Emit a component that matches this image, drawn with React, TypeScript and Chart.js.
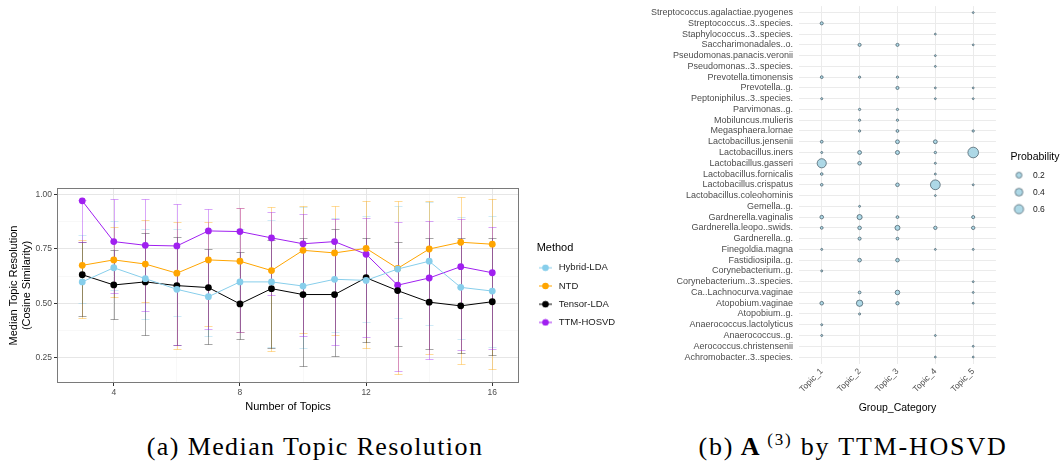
import React, { useEffect, useRef } from 'react';
import { Chart, registerables } from 'chart.js';
Chart.register(...registerables);

const SANS = '"Liberation Sans", Arial, sans-serif';

// ---------- (a) Median Topic Resolution ----------
const topicCounts = [3, 4, 5, 6, 7, 8, 9, 10, 11, 12, 13, 14, 15, 16];
const methodNames = ['Hybrid-LDA', 'NTD', 'Tensor-LDA', 'TTM-HOSVD'];
const methodColors = ['#87CEEB', '#FFA500', '#000000', '#A020F0'];

const hybridLDA = [0.598, 0.663, 0.613, 0.564, 0.530, 0.598, 0.598, 0.579, 0.610, 0.605, 0.657, 0.693, 0.573, 0.556];
const ntd = [0.674, 0.699, 0.680, 0.638, 0.699, 0.693, 0.650, 0.743, 0.731, 0.752, 0.660, 0.749, 0.780, 0.771];
const tensorLDA = [0.631, 0.584, 0.598, 0.581, 0.572, 0.497, 0.567, 0.540, 0.540, 0.617, 0.558, 0.505, 0.488, 0.507];
const ttmHOSVD = [0.970, 0.783, 0.766, 0.763, 0.832, 0.829, 0.800, 0.773, 0.783, 0.725, 0.583, 0.616, 0.668, 0.640];

const hybridLow = [0.500, 0.560, 0.428, 0.440, 0.350, 0.370, 0.300, 0.296, 0.367, 0.416, 0.431, 0.400, 0.335, 0.301];
const hybridHigh = [0.813, 0.877, 0.840, 0.840, 0.840, 0.840, 0.880, 0.940, 0.890, 0.902, 0.948, 0.966, 0.894, 0.900];
const ntdLow = [0.431, 0.527, 0.507, 0.290, 0.397, 0.370, 0.283, 0.362, 0.356, 0.296, 0.174, 0.266, 0.220, 0.199];
const ntdHigh = [0.790, 0.850, 0.882, 0.874, 0.873, 0.936, 0.940, 0.948, 0.948, 0.969, 0.969, 0.969, 0.986, 0.977];
const tensorLow = [0.443, 0.428, 0.353, 0.310, 0.312, 0.336, 0.296, 0.214, 0.257, 0.324, 0.306, 0.289, 0.270, 0.263];
const tensorHigh = [0.780, 0.745, 0.824, 0.805, 0.749, 0.734, 0.790, 0.798, 0.840, 0.798, 0.783, 0.801, 0.798, 0.800];
const ttmLow = [0.780, 0.546, 0.465, 0.309, 0.382, 0.370, 0.540, 0.351, 0.309, 0.347, 0.190, 0.245, 0.286, 0.289];
const ttmHigh = [0.975, 0.980, 0.980, 0.954, 0.932, 0.936, 0.920, 0.908, 0.885, 0.890, 0.872, 0.877, 0.885, 0.851];

const xTickValues = [4, 6, 8, 10, 12, 14, 16];
const xMajorTicks = [4, 8, 12, 16];
const yTickValues = [0.25, 0.375, 0.5, 0.625, 0.75, 0.875, 1.0];
const yMajorTicks = [0.25, 0.5, 0.75, 1.0];

// ---------- (b) A(3) by TTM-HOSVD ----------
const topicLabels = ['Topic_1', 'Topic_2', 'Topic_3', 'Topic_4', 'Topic_5'];
const speciesLabels = [
  'Streptococcus.agalactiae.pyogenes',
  'Streptococcus..3..species.',
  'Staphylococcus..3..species.',
  'Saccharimonadales..o.',
  'Pseudomonas.panacis.veronii',
  'Pseudomonas..3..species.',
  'Prevotella.timonensis',
  'Prevotella..g.',
  'Peptoniphilus..3..species.',
  'Parvimonas..g.',
  'Mobiluncus.mulieris',
  'Megasphaera.lornae',
  'Lactobacillus.jensenii',
  'Lactobacillus.iners',
  'Lactobacillus.gasseri',
  'Lactobacillus.fornicalis',
  'Lactobacillus.crispatus',
  'Lactobacillus.coleohominis',
  'Gemella..g.',
  'Gardnerella.vaginalis',
  'Gardnerella.leopo..swids.',
  'Gardnerella..g.',
  'Finegoldia.magna',
  'Fastidiosipila..g.',
  'Corynebacterium..g.',
  'Corynebacterium..3..species.',
  'Ca..Lachnocurva.vaginae',
  'Atopobium.vaginae',
  'Atopobium..g.',
  'Anaerococcus.lactolyticus',
  'Anaerococcus..g.',
  'Aerococcus.christensenii',
  'Achromobacter..3..species.',
];
// probability per species (same order as speciesLabels), 0 = not shown
const topic1Prob = [0, 0.03, 0, 0, 0, 0, 0.02, 0, 0.005, 0, 0, 0, 0.02, 0.004, 0.6, 0.015, 0.015, 0, 0, 0.05, 0.02, 0, 0.004, 0, 0.004, 0, 0, 0.05, 0, 0.004, 0.004, 0, 0];
const topic2Prob = [0, 0, 0, 0.03, 0, 0, 0.008, 0, 0, 0.008, 0.008, 0.008, 0, 0.06, 0.05, 0, 0, 0, 0.003, 0.14, 0.05, 0.03, 0, 0.05, 0, 0, 0.02, 0.25, 0.005, 0, 0, 0, 0];
const topic3Prob = [0, 0, 0, 0.03, 0, 0, 0.008, 0.03, 0, 0.008, 0.008, 0.02, 0.06, 0.07, 0, 0, 0.05, 0, 0, 0.02, 0.13, 0.02, 0, 0.05, 0, 0, 0.1, 0.04, 0, 0, 0, 0, 0];
const topic4Prob = [0, 0, 0.002, 0, 0.002, 0.002, 0, 0.002, 0.002, 0, 0, 0, 0.06, 0.01, 0.004, 0.003, 0.7, 0.002, 0, 0, 0.04, 0, 0.002, 0, 0, 0, 0, 0, 0, 0, 0.002, 0, 0.002];
const topic5Prob = [0.002, 0, 0, 0.002, 0, 0, 0, 0.002, 0.002, 0, 0, 0.008, 0, 0.85, 0, 0, 0.003, 0, 0, 0.03, 0.04, 0, 0.003, 0, 0, 0.002, 0.002, 0.002, 0, 0, 0, 0.002, 0.002];
const probLegendValues = [0.2, 0.4, 0.6];

const topicProbs = [topic1Prob, topic2Prob, topic3Prob, topic4Prob, topic5Prob];
const radiusOf = (p: number) => 0.7 + 5 * Math.sqrt(p);
const BUBBLE_FILL = '#ADD8E6';
const BUBBLE_EDGE = '#4F6470';

function hexToRgba(hex: string, a: number) {
  const n = parseInt(hex.slice(1), 16);
  return `rgba(${(n >> 16) & 255},${(n >> 8) & 255},${n & 255},${a})`;
}

function makeLineIcon(color: string) {
  const c = document.createElement('canvas');
  c.width = 16; c.height = 8;
  const g = c.getContext('2d')!;
  g.strokeStyle = color; g.lineWidth = 1;
  g.beginPath(); g.moveTo(1, 4); g.lineTo(14, 4); g.stroke();
  g.fillStyle = color;
  g.beginPath(); g.arc(7.5, 4, 3.3, 0, Math.PI * 2); g.fill();
  return c;
}

function makeCircleIcon(r: number) {
  const s = Math.ceil(r * 2 + 3);
  const c = document.createElement('canvas');
  c.width = s; c.height = s;
  const g = c.getContext('2d')!;
  g.fillStyle = BUBBLE_FILL; g.strokeStyle = BUBBLE_EDGE; g.lineWidth = 0.8;
  g.beginPath(); g.arc(s / 2, s / 2, r, 0, Math.PI * 2); g.fill(); g.stroke();
  return c;
}

// moves the built-in legend box after layout (left, top, title-centering width in canvas px)
function legendPlacer(left: number, top: number, width: number) {
  return {
    id: 'legendPlacer',
    afterLayout(chart: any) {
      const lg = chart.legend;
      if (!lg) return;
      lg.left = left; lg.top = top; lg.width = width;
      lg.right = left + 200; lg.bottom = top + 300; lg.height = 300;
    },
  };
}

const errorSeries = [
  { low: hybridLow, high: hybridHigh },
  { low: ntdLow, high: ntdHigh },
  { low: tensorLow, high: tensorHigh },
  { low: ttmLow, high: ttmHigh },
];

const errorBarPlugin = {
  id: 'errorBars',
  beforeDatasetsDraw(chart: any) {
    const { ctx, chartArea, scales } = chart;
    const xs = scales.x, ys = scales.y;
    ctx.save();
    ctx.beginPath();
    ctx.rect(chartArea.left, chartArea.top, chartArea.right - chartArea.left, chartArea.bottom - chartArea.top);
    ctx.clip();
    const cap = 4;
    errorSeries.forEach((s, si) => {
      ctx.strokeStyle = hexToRgba(methodColors[si], si === 2 ? 0.35 : 0.4);
      ctx.lineWidth = 1;
      topicCounts.forEach((t, i) => {
        const px = Math.round(xs.getPixelForValue(t)) + 0.5;
        const y1 = Math.round(ys.getPixelForValue(s.low[i])) + 0.5;
        const y2 = Math.round(ys.getPixelForValue(s.high[i])) + 0.5;
        ctx.beginPath();
        ctx.moveTo(px, y1); ctx.lineTo(px, y2);
        ctx.moveTo(px - cap, y1); ctx.lineTo(px + cap, y1);
        ctx.moveTo(px - cap, y2); ctx.lineTo(px + cap, y2);
        ctx.stroke();
      });
    });
    ctx.restore();
  },
  afterDatasetsDraw(chart: any) {
    const { ctx, chartArea } = chart;
    ctx.save();
    ctx.strokeStyle = '#7a7a7a';
    ctx.lineWidth = 1;
    ctx.strokeRect(Math.round(chartArea.left) + 0.5, Math.round(chartArea.top) + 0.5,
      Math.round(chartArea.right - chartArea.left) - 1, Math.round(chartArea.bottom - chartArea.top) - 1);
    ctx.restore();
  },
};

function LeftChart() {
  const ref = useRef<HTMLCanvasElement>(null);
  useEffect(() => {
    const series = [hybridLDA, ntd, tensorLDA, ttmHOSVD];
    const icons = methodColors.map(makeLineIcon);
    const chart = new Chart(ref.current!, {
      type: 'line',
      data: {
        datasets: series.map((vals, si) => ({
          label: methodNames[si],
          data: topicCounts.map((t, i) => ({ x: t, y: vals[i] })),
          borderColor: methodColors[si],
          backgroundColor: methodColors[si],
          pointBackgroundColor: methodColors[si],
          pointBorderWidth: 0,
          pointRadius: 3.4,
          borderWidth: 1,
          tension: 0,
        })),
      },
      options: {
        animation: false,
        responsive: false,
        layout: { padding: { top: 18, right: 15, left: 0, bottom: 0 } },
        plugins: {
          tooltip: { enabled: false },
          legend: {
            position: 'right',
            align: 'start',
            title: { display: true, text: 'Method', color: '#000', font: { family: SANS, size: 11, lineHeight: 1.05 }, padding: 0, position: 'center' },
            labels: {
              usePointStyle: true,
              pointStyleWidth: 16,
              boxHeight: 9.5,
              padding: 8.7,
              color: '#1a1a1a',
              font: { family: SANS, size: 9.5 },
              generateLabels: (c: any) => c.data.datasets.map((ds: any, i: number) => ({
                text: ds.label, pointStyle: icons[i], fillStyle: methodColors[i], strokeStyle: methodColors[i],
                lineWidth: 0, hidden: false, datasetIndex: i, fontColor: '#1a1a1a',
              })),
            },
          },
        },
        scales: {
          x: {
            type: 'linear',
            min: 2.2,
            max: 16.85,
            afterBuildTicks: (axis: any) => { axis.ticks = xTickValues.map((v) => ({ value: v })); },
            afterFit: (axis: any) => { axis.height = 37; axis.paddingLeft = 0; axis.paddingRight = 0; },
            ticks: {
              color: '#4D4D4D', font: { family: SANS, size: 8.5 }, padding: 2,
              autoSkip: false, maxRotation: 0,
              callback: (v: any) => (xMajorTicks.includes(v) ? String(v) : ''),
            },
            grid: {
              color: (c: any) => (xMajorTicks.includes(c.tick?.value) ? '#E6E6E6' : '#F3F3F3'),
              lineWidth: (c: any) => (xMajorTicks.includes(c.tick?.value) ? 1 : 0.6),
              tickColor: (c: any) => (xMajorTicks.includes(c.tick?.value) ? '#333' : 'rgba(0,0,0,0)'),
              tickLength: 3,
            },
            border: { display: false },
            title: { display: true, text: 'Number of Topics', color: '#000', font: { family: SANS, size: 11 }, padding: { top: 0, bottom: 6 } },
          },
          y: {
            type: 'linear',
            min: 0.134,
            max: 1.029,
            afterBuildTicks: (axis: any) => { axis.ticks = yTickValues.map((v) => ({ value: v })); },
            afterFit: (axis: any) => { axis.width = 57; axis.paddingTop = 0; axis.paddingBottom = 0; },
            ticks: {
              color: '#4D4D4D', font: { family: SANS, size: 8.5 }, padding: 2, autoSkip: false,
              callback: (v: any) => (yMajorTicks.includes(v) ? Number(v).toFixed(2) : ''),
            },
            grid: {
              color: (c: any) => (yMajorTicks.includes(c.tick?.value) ? '#E6E6E6' : '#F3F3F3'),
              lineWidth: (c: any) => (yMajorTicks.includes(c.tick?.value) ? 1 : 0.6),
              tickColor: (c: any) => (yMajorTicks.includes(c.tick?.value) ? '#333' : 'rgba(0,0,0,0)'),
              tickLength: 3,
            },
            border: { display: false },
            title: {
              display: true, text: ['Median Topic Resolution', '(Cosine Similarity)'], color: '#000',
              font: { family: SANS, size: 11, lineHeight: 1.27 }, padding: { top: 6.5, bottom: 2 },
            },
          },
        },
      },
      plugins: [errorBarPlugin, legendPlacer(529.3, 72.8, 51.4)],
    } as any);
    return () => chart.destroy();
  }, []);
  return <canvas ref={ref} width={630} height={250} style={{ position: 'absolute', left: 0, top: 170, width: 630, height: 250 }} />;
}

function RightChart() {
  const ref = useRef<HTMLCanvasElement>(null);
  useEffect(() => {
    const points: any[] = [];
    topicProbs.forEach((arr, ti) => {
      arr.forEach((p, si) => {
        if (p > 0) points.push({ x: ti, y: si, r: radiusOf(p) });
      });
    });
    const icons = probLegendValues.map((p) => makeCircleIcon(radiusOf(p)));
    const chart = new Chart(ref.current!, {
      type: 'bubble',
      data: {
        datasets: [{
          label: 'Probability',
          data: points,
          backgroundColor: BUBBLE_FILL,
          borderColor: BUBBLE_EDGE,
          borderWidth: 0.8,
        }],
      },
      options: {
        animation: false,
        responsive: false,
        layout: { padding: { top: 2.5, right: 13, left: 0, bottom: 0 } },
        plugins: {
          tooltip: { enabled: false },
          legend: {
            position: 'right',
            align: 'start',
            title: { display: true, text: 'Probability', color: '#000', font: { family: SANS, size: 10.5, lineHeight: 1.05 }, padding: 0, position: 'center' },
            labels: {
              usePointStyle: true,
              pointStyleWidth: 19.5,
              boxHeight: 8.5,
              padding: 8.5,
              color: '#1a1a1a',
              font: { family: SANS, size: 8.5 },
              generateLabels: () => probLegendValues.map((p, i) => ({
                text: String(p), pointStyle: icons[i], fillStyle: BUBBLE_FILL, strokeStyle: BUBBLE_EDGE,
                lineWidth: 0, hidden: false, datasetIndex: 0, fontColor: '#1a1a1a',
              })),
            },
          },
        },
        scales: {
          x: {
            type: 'linear',
            min: -0.6,
            max: topicLabels.length - 1 + 0.6,
            afterBuildTicks: (axis: any) => { axis.ticks = topicLabels.map((_, i) => ({ value: i })); },
            afterFit: (axis: any) => { axis.height = 56.5; axis.paddingLeft = 0; axis.paddingRight = 0; axis.paddingTop = 0; axis.paddingBottom = 0; },
            ticks: {
              color: '#4D4D4D', font: { family: SANS, size: 8.5 }, padding: 3, autoSkip: false,
              minRotation: 45, maxRotation: 45,
              callback: (v: any) => topicLabels[v] ?? '',
            },
            grid: { color: '#EBEBEB', lineWidth: 1, drawTicks: false },
            border: { display: false },
            title: { display: true, text: 'Group_Category', color: '#000', font: { family: SANS, size: 10.5 }, padding: { top: 0, bottom: 6 } },
          },
          y: {
            type: 'linear',
            reverse: true,
            min: -0.6,
            max: speciesLabels.length - 1 + 0.6,
            afterBuildTicks: (axis: any) => { axis.ticks = speciesLabels.map((_, i) => ({ value: i })); },
            afterFit: (axis: any) => { axis.width = 159; axis.paddingTop = 0; axis.paddingBottom = 0; },
            ticks: {
              color: '#4D4D4D', font: { family: SANS, size: 9, lineHeight: 0.5 }, padding: 6, autoSkip: false,
              callback: (v: any) => speciesLabels[v] ?? '',
            },
            grid: { color: '#EBEBEB', lineWidth: 1, drawTicks: false },
            border: { display: false },
          },
        },
      },
      plugins: [legendPlacer(360.75, 151.4, 68.5)],
    } as any);
    return () => chart.destroy();
  }, []);
  return <canvas ref={ref} width={423} height={420} style={{ position: 'absolute', left: 640, top: 0, width: 423, height: 420 }} />;
}

const captionStyle: React.CSSProperties = {
  position: 'absolute',
  top: 429,
  fontFamily: '"Liberation Serif", "DejaVu Serif", serif',
  fontSize: 26,
  letterSpacing: 1.4,
  lineHeight: '36px',
  whiteSpace: 'nowrap',
  color: '#000',
  transform: 'translateX(-50%)',
};

export default function App() {
  return (
    <div style={{ position: 'absolute', left: 0, top: 0, width: 1063, height: 465, background: '#fff', overflow: 'hidden' }}>
      <LeftChart />
      <RightChart />
      <div style={{ ...captionStyle, left: 315 }}>(a) Median Topic Resolution</div>
      <div style={{ ...captionStyle, left: 853, letterSpacing: 1.8 }}>
        (b)<span style={{ letterSpacing: 0 }}> </span><b>A</b><sup style={{ fontSize: 17, lineHeight: 0, verticalAlign: 'baseline', position: 'relative', top: -10, marginLeft: 6 }}>(3)</sup> by TTM-HOSVD
      </div>
    </div>
  );
}
